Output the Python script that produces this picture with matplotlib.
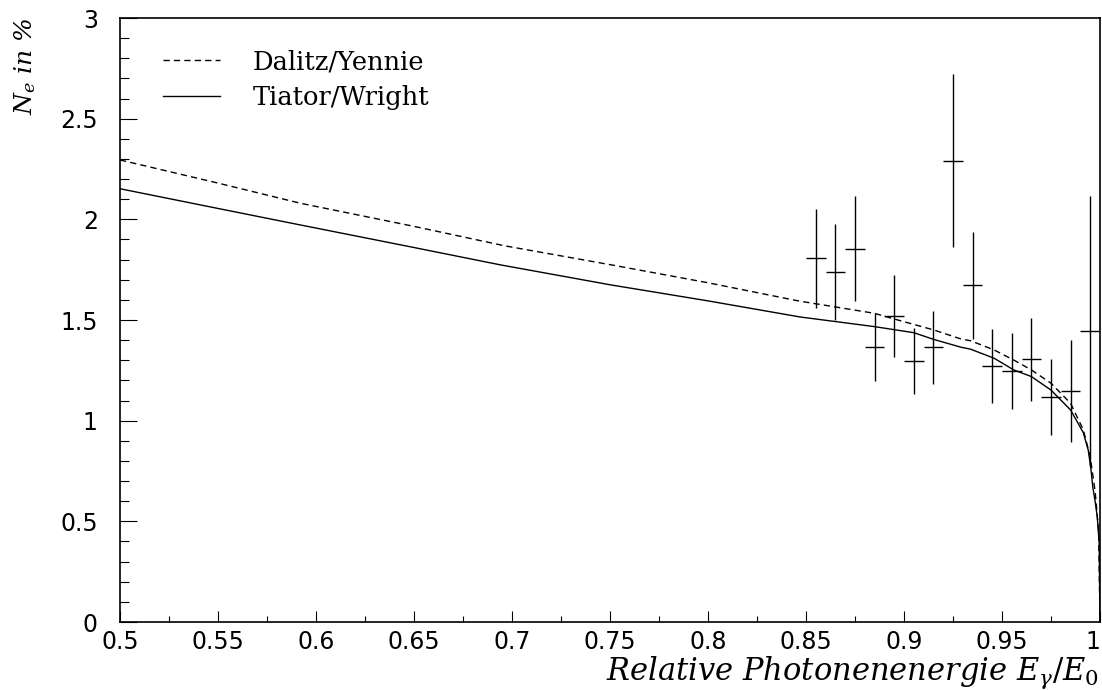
import numpy as np
import matplotlib
matplotlib.use("Agg")
import matplotlib.pyplot as plt
from matplotlib.ticker import MultipleLocator, FuncFormatter

plt.rcParams["mathtext.fontset"] = "dejavuserif"

# Curves (x = relative photon energy, y = N_e in %)
x_dalitz = [0.50, 0.55, 0.592, 0.65, 0.696, 0.75, 0.80, 0.846, 0.885, 0.895,
            0.915, 0.929, 0.934, 0.946, 0.956, 0.965, 0.975, 0.985, 0.9915,
            0.995, 0.9975, 0.9993, 1.0]
y_dalitz = [2.295, 2.180, 2.080, 1.965, 1.869, 1.775, 1.685, 1.595, 1.533, 1.505,
            1.451, 1.406, 1.397, 1.351, 1.301, 1.252, 1.186, 1.086, 0.954,
            0.820, 0.650, 0.450, 0.0]

x_tiator = [0.50, 0.55, 0.59, 0.65, 0.694, 0.75, 0.80, 0.847, 0.885, 0.905,
            0.915, 0.929, 0.934, 0.946, 0.956, 0.965, 0.975, 0.985, 0.9915,
            0.994, 0.9953, 0.9963, 0.9974, 0.9986, 0.9996, 1.0]
y_tiator = [2.152, 2.054, 1.976, 1.860, 1.774, 1.675, 1.595, 1.515, 1.467, 1.437,
            1.404, 1.365, 1.355, 1.310, 1.252, 1.219, 1.152, 1.053, 0.940,
            0.854, 0.765, 0.672, 0.606, 0.523, 0.391, 0.0]

# Measured points with errors
x_data = [0.855, 0.865, 0.875, 0.885, 0.895, 0.905, 0.915, 0.925,
          0.935, 0.945, 0.955, 0.965, 0.975, 0.985, 0.995]
y_data = [1.807, 1.737, 1.854, 1.365, 1.520, 1.297, 1.365, 2.292,
          1.672, 1.270, 1.247, 1.305, 1.116, 1.149, 1.446]
y_err = [0.245, 0.238, 0.262, 0.170, 0.205, 0.164, 0.182, 0.431,
         0.265, 0.183, 0.187, 0.207, 0.188, 0.253, 0.670]
x_err = 0.005

fig = plt.figure(figsize=(11.02, 6.90), dpi=100)
ax = fig.add_axes([120 / 1102, 1 - 622 / 690, 980 / 1102, 604 / 690])

ax.plot(x_dalitz, y_dalitz, color="black", lw=1.0, dashes=(4.5, 3.0),
        label="Dalitz/Yennie")
ax.plot(x_tiator, y_tiator, color="black", lw=1.0, label="Tiator/Wright")
ax.errorbar(x_data, y_data, xerr=x_err, yerr=y_err, fmt="none",
            ecolor="black", elinewidth=1.0, capsize=0)

ax.set_xlim(0.5, 1.0)
ax.set_ylim(0, 3)

ax.xaxis.set_major_locator(MultipleLocator(0.05))
ax.xaxis.set_minor_locator(MultipleLocator(0.025))
ax.yaxis.set_major_locator(MultipleLocator(0.5))
ax.yaxis.set_minor_locator(MultipleLocator(0.1))

fmt = FuncFormatter(lambda v, p: ("%g" % round(v, 3)))
ax.xaxis.set_major_formatter(fmt)
ax.yaxis.set_major_formatter(fmt)

ax.tick_params(axis="x", which="major", direction="in", length=8, width=0.8,
               labelsize=17, pad=6, top=False)
ax.tick_params(axis="x", which="minor", direction="in", length=4, width=0.8, top=False)
ax.tick_params(axis="y", which="major", direction="in", length=12, width=0.8,
               labelsize=17, pad=16, right=False)
ax.tick_params(axis="y", which="minor", direction="in", length=6.5, width=0.8, right=False)
for lab in ax.get_xticklabels() + ax.get_yticklabels():
    lab.set_family("DejaVu Sans")

# keep the "1" at the right edge inside the picture
fig.canvas.draw()
for tick in ax.xaxis.get_major_ticks():
    if tick.label1.get_text() == "1":
        tick.label1.set_horizontalalignment("right")

for sp in ax.spines.values():
    sp.set_linewidth(1.2)

leg = ax.legend(loc="upper left", bbox_to_anchor=(0.044, 0.948), frameon=False,
                borderpad=0, borderaxespad=0, handlelength=2.2, handletextpad=1.3,
                labelspacing=0.42, prop={"family": "DejaVu Serif", "size": 18.5})

fig.text(1099 / 1102, 1 - 680 / 690,
         r"Relative Photonenenergie $E_{\gamma}/E_{\mathit{0}}$",
         ha="right", va="baseline", fontsize=22, family="DejaVu Serif",
         style="italic")
fig.text(12 / 1102, 1 - 18 / 690, r"$N_e$ in %", rotation=90, ha="left",
         va="top", fontsize=18, family="DejaVu Serif", style="italic")

fig.savefig("out.png", dpi=100)
